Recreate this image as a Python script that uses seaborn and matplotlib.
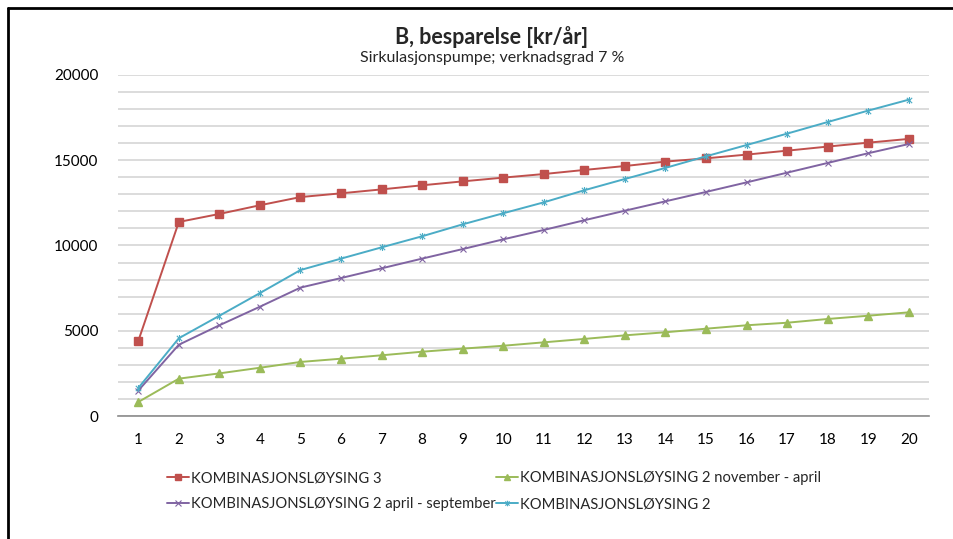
import numpy as np
import pandas as pd
import matplotlib
matplotlib.use("Agg")
import matplotlib.pyplot as plt
from matplotlib.path import Path
from matplotlib.lines import Line2D
import seaborn as sns

years = list(range(1, 21))
komb3 = [4400, 11380, 11850, 12360, 12840, 13060, 13290, 13530, 13760, 13980,
         14190, 14430, 14660, 14920, 15110, 15330, 15560, 15800, 16030, 16250]
komb2_nov_apr = [820, 2190, 2500, 2830, 3170, 3360, 3560, 3770, 3950, 4120,
                 4320, 4520, 4730, 4910, 5120, 5320, 5470, 5690, 5880, 6080]
komb2_apr_sep = [1490, 4180, 5320, 6410, 7530, 8090, 8660, 9230, 9790, 10360,
                 10910, 11480, 12040, 12590, 13140, 13700, 14270, 14840, 15410, 15950]
komb2 = [1640, 4560, 5880, 7210, 8560, 9230, 9890, 10540, 11240, 11890,
         12530, 13240, 13900, 14550, 15230, 15890, 16560, 17240, 17910, 18550]
labels = ["KOMBINASJONSLØYSING 3",
          "KOMBINASJONSLØYSING 2 november - april",
          "KOMBINASJONSLØYSING 2 april - september",
          "KOMBINASJONSLØYSING 2"]

sns.set_style("white")
plt.rcParams['font.family'] = ['Lato', 'DejaVu Sans']

# excel style asterisk marker (x with vertical bar)
star = Path([(-1, -1), (1, 1), (-1, 1), (1, -1), (0, -1.3), (0, 1.3)],
            [Path.MOVETO, Path.LINETO, Path.MOVETO, Path.LINETO, Path.MOVETO, Path.LINETO])

styles = [("#C0504D", "s", 5.8, 1.0),
          ("#9BBB59", "^", 5.8, 1.0),
          ("#8064A2", "x", 5.0, 0.8),
          ("#4BACC6", star, 5.0, 0.8)]

fig = plt.figure(figsize=(9.54, 5.39), dpi=100)
ax = fig.add_axes([0.1237, 0.2282, 0.9738 - 0.1237, 0.8609 - 0.2282])

for vals, lab, (c, m, ms, mew) in zip([komb3, komb2_nov_apr, komb2_apr_sep, komb2], labels, styles):
    sns.lineplot(x=years, y=vals, ax=ax, color=c, marker=m, markersize=ms,
                 markeredgecolor=c, markerfacecolor=c, markeredgewidth=mew,
                 linewidth=1.4, label=lab)

ax.set_xlim(0.5, 20.5)
ax.set_ylim(0, 20000)
ax.set_xticks(years)
ax.set_yticks(np.arange(0, 20001, 5000))
ax.set_yticks(np.arange(0, 20001, 1000), minor=True)
ax.grid(True, axis="y", which="both", color="#d9d9d9", linewidth=1.3)
ax.set_axisbelow(True)
ax.tick_params(axis="both", which="both", length=0, labelsize=11, colors="black")
ax.tick_params(axis="y", pad=14)
ax.tick_params(axis="x", pad=12)
for s in ["top", "right", "left"]:
    ax.spines[s].set_visible(False)
ax.spines["bottom"].set_color("#8c8c8c")
ax.spines["bottom"].set_linewidth(1.2)
ax.set_xlabel("")
ax.set_ylabel("")

# legend filled row by row like the original
h, l = ax.get_legend_handles_labels()
order = [0, 2, 1, 3]
leg = ax.legend([h[i] for i in order], [l[i] for i in order], ncol=2, loc="upper left",
                bbox_to_anchor=(0.053, -0.145), frameon=False, fontsize=10.6,
                handlelength=1.5, handletextpad=0.15, columnspacing=0.0,
                labelspacing=0.8, borderaxespad=0, markerscale=0.8)

fig.text(492 / 954, 1 - 37 / 539, "B, besparelse [kr/år]", ha="center", va="center",
         fontsize=15.5, fontweight="bold")
fig.text(492 / 954, 1 - 58 / 539, "Sirkulasjonspumpe; verknadsgrad 7 %", ha="center",
         va="center", fontsize=11.5)

# chart frame
fig.add_artist(Line2D([8 / 954, 1], [1 - 8 / 539, 1 - 8 / 539], color="black",
                      linewidth=2, transform=fig.transFigure))
fig.add_artist(Line2D([8 / 954, 8 / 954], [0, 1 - 8 / 539], color="black",
                      linewidth=2, transform=fig.transFigure))

fig.savefig("out.png", dpi=100)
